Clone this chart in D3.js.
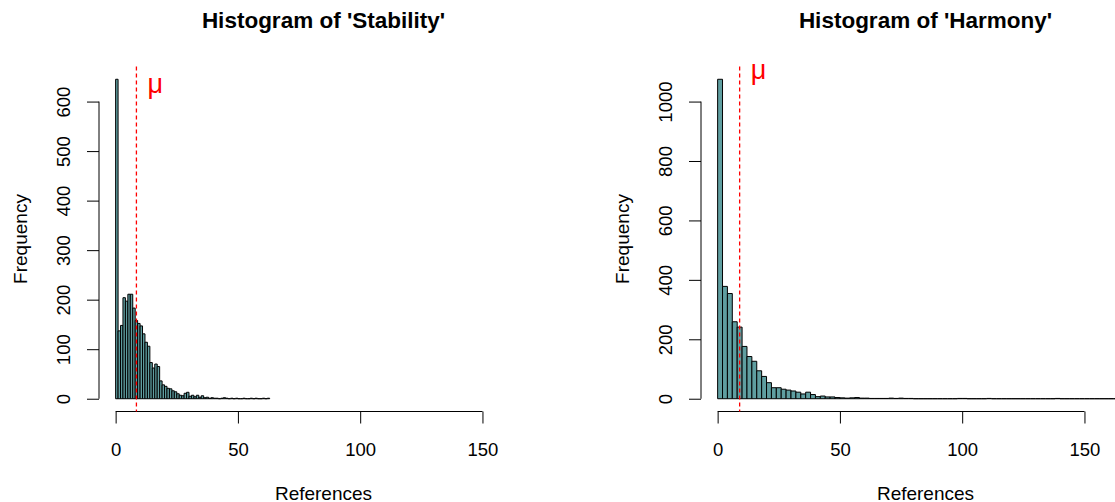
<!DOCTYPE html>
<html>
<head>
<meta charset="utf-8">
<script src="https://cdn.jsdelivr.net/npm/d3@7"></script>
<style>
    body { margin: 0; background: #fff; }
    svg { display: block; font-family: "Liberation Sans", Arial, sans-serif; }
</style>
</head>
<body>
<div id="chart"></div>
<script>
// Counts per bin
const stabilityCounts = [
    645, 137, 148, 204, 197, 211, 211, 183, 158, 152,
    147, 131, 114, 106, 73, 62, 70, 65, 36, 28,
    25, 21, 20, 16, 14, 10, 7, 6, 11, 13,
    5, 7, 4, 7, 3, 6, 2, 3, 1, 2,
    1, 1, 0, 1, 2, 1, 0, 1, 0, 1,
    0, 0, 1, 0, 0, 1, 0, 1, 0, 0,
    1, 0, 1
];
const harmonyCounts = [
    1075, 378, 354, 259, 241, 176, 142, 126, 94, 75,
    54, 37, 37, 32, 29, 26, 22, 16, 22, 14,
    7, 9, 6, 6, 4, 3, 2, 3, 4, 2,
    2, 1, 1, 1, 1, 2, 1, 2, 1, 1,
    0, 0, 0, 0, 0, 0, 0, 0, 0, 1,
    1, 0, 0, 0, 0, 1, 0, 0, 0, 0,
    0, 0, 0, 0, 0, 0, 0, 0, 0, 1,
    0, 0, 0, 0, 0, 0, 0, 0, 0, 0,
    0, 0, 0, 0, 0, 0, 0, 1
];
const binWidths = [1, 2];
const means = [8.5, 9.0];
const muLabelY = [630, 1095];
const titles = ["Histogram of 'Stability'", "Histogram of 'Harmony'"];
const xTicks = [0, 50, 100, 150];
const stabilityYTicks = [0, 100, 200, 300, 400, 500, 600];
const harmonyYTicks = [0, 200, 400, 600, 800, 1000];
const xLimits = [0, 170];

const W = 1115, H = 502;
const plotTop = 66.5, plotBottom = 411.5, plotWidth = 449;
const panelLefts = [99, 701];

const svg = d3.select('#chart').append('svg')
    .attr('width', W)
    .attr('height', H);

function drawHistogram(panelLeft, counts, binWidth, mean, muY, title, yTicks) {
    // R style axis ranges: 4% padding on both ends
    const xPad = (xLimits[1] - xLimits[0]) * 0.04;
    const x = d3.scaleLinear()
        .domain([xLimits[0] - xPad, xLimits[1] + xPad])
        .range([panelLeft, panelLeft + plotWidth]);
    const yMax = d3.max(counts);
    const y = d3.scaleLinear()
        .domain([-0.04 * yMax, 1.04 * yMax])
        .range([plotBottom, plotTop]);

    const g = svg.append('g');

    // bars (path so that empty bins still show as a line)
    g.selectAll('path.bar')
        .data(counts)
        .enter()
        .append('path')
        .attr('class', 'bar')
        .attr('d', (d, i) => {
            const x0 = x(i * binWidth), x1 = x((i + 1) * binWidth);
            return `M${x0},${y(0)}V${y(d)}H${x1}V${y(0)}Z`;
        })
        .attr('fill', 'cadetblue')
        .attr('stroke', '#000')
        .attr('stroke-width', 1);

    // x axis
    const xAxis = g.append('g')
        .attr('transform', `translate(0,${plotBottom})`)
        .call(d3.axisBottom(x).tickValues(xTicks).tickSize(12).tickPadding(19));
    xAxis.select('.domain').remove();
    xAxis.append('line')
        .attr('x1', x(xTicks[0]))
        .attr('x2', x(xTicks[xTicks.length - 1]))
        .attr('stroke', '#000');
    xAxis.selectAll('text')
        .attr('font-size', '18.5px')
        .attr('fill', '#000');
    xAxis.selectAll('.tick line').attr('stroke', '#000');

    // y axis, labels rotated like R
    const yAxis = g.append('g')
        .attr('transform', `translate(${panelLeft},0)`)
        .call(d3.axisLeft(y).tickValues(yTicks).tickSize(12).tickFormat(d3.format('d')));
    yAxis.select('.domain').remove();
    yAxis.append('line')
        .attr('y1', y(yTicks[0]))
        .attr('y2', y(yTicks[yTicks.length - 1]))
        .attr('stroke', '#000');
    yAxis.selectAll('.tick line').attr('stroke', '#000');
    yAxis.selectAll('text')
        .attr('x', null)
        .attr('dy', null)
        .attr('text-anchor', 'middle')
        .attr('transform', 'translate(-29.5,0) rotate(-90)')
        .attr('font-size', '18.5px')
        .attr('fill', '#000');

    // axis titles
    const midX = panelLeft + plotWidth / 2;
    g.append('text')
        .attr('x', midX)
        .attr('y', 499.5)
        .attr('text-anchor', 'middle')
        .attr('font-size', '19px')
        .text('References');
    g.append('text')
        .attr('transform', `translate(${panelLeft - 72.5},${(plotTop + plotBottom) / 2}) rotate(-90)`)
        .attr('text-anchor', 'middle')
        .attr('font-size', '19px')
        .text('Frequency');

    // main title
    g.append('text')
        .attr('x', midX)
        .attr('y', 28)
        .attr('text-anchor', 'middle')
        .attr('font-size', '22.5px')
        .attr('font-weight', 'bold')
        .text(title);

    // mean line + label
    g.append('line')
        .attr('x1', x(mean))
        .attr('x2', x(mean))
        .attr('y1', plotTop)
        .attr('y2', plotBottom)
        .attr('stroke', 'red')
        .attr('stroke-width', 1.3)
        .attr('stroke-dasharray', '4,3');
    g.append('text')
        .attr('x', x(mean) + 11)
        .attr('y', y(muY) + 6)
        .attr('fill', 'red')
        .attr('font-size', '27px')
        .text('\u03bc');
}

drawHistogram(panelLefts[0], stabilityCounts, binWidths[0], means[0], muLabelY[0], titles[0], stabilityYTicks);
drawHistogram(panelLefts[1], harmonyCounts, binWidths[1], means[1], muLabelY[1], titles[1], harmonyYTicks);
</script>
</body>
</html>
